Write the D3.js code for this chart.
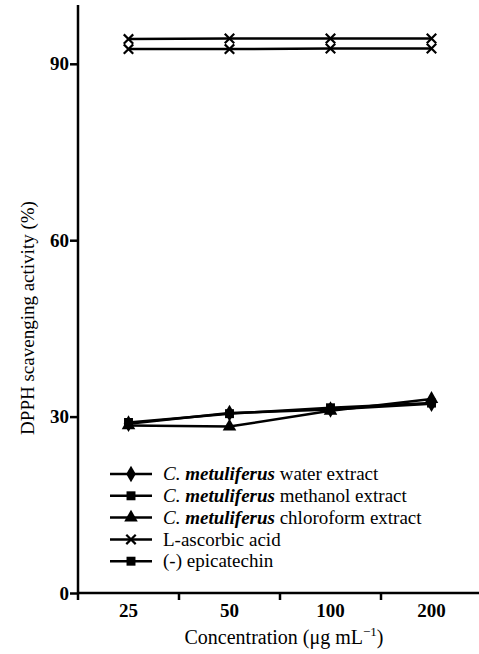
<!DOCTYPE html>
<html>
<head>
<meta charset="utf-8">
<script src="https://cdn.jsdelivr.net/npm/d3@7"></script>
</head>
<body style="margin:0; background:#fff">
<div id="chart"></div>
<script>
    const concentrations = ["25", "50", "100", "200"];
    const water = [28.8, 30.6, 31.2, 32.2];
    const methanol = [29.0, 30.5, 31.5, 32.3];
    const chloroform = [28.5, 28.3, 31.0, 33.0];
    const ascorbic = [94.2, 94.3, 94.3, 94.3];
    const epicatechin = [92.5, 92.5, 92.6, 92.6];
    const yTicks = [0, 30, 60, 90];

    const FONT = "'Liberation Serif', 'Times New Roman', serif";

    const series = [
        {name: ["C. ", "metuliferus", " water extract"], values: water, symbol: d3.symbolDiamond, size: 80},
        {name: ["C. ", "metuliferus", " methanol extract"], values: methanol, symbol: d3.symbolSquare, size: 80},
        {name: ["C. ", "metuliferus", " chloroform extract"], values: chloroform, symbol: d3.symbolTriangle, size: 80},
        {name: ["", "", "L-ascorbic acid"], values: ascorbic, symbol: d3.symbolTimes, size: 60},
        {name: ["", "", "(-) epicatechin"], values: epicatechin, symbol: d3.symbolSquare, size: 80, plotSymbol: d3.symbolTimes}
    ];

    let width = 479, height = 654;
    let margin = {top: 5, right: 0, bottom: 61, left: 78};

    let svg = d3.select("#chart")
        .append("svg")
        .attr("width", width)
        .attr("height", height)
        .style("font-family", FONT);

    let x = d3.scaleBand()
        .domain(concentrations)
        .range([margin.left, margin.left + 404]);

    let y = d3.scaleLinear()
        .domain([0, 100])
        .range([height - margin.bottom, margin.top]);

    // y axis
    let yAxis = svg.append("g")
        .attr("transform", `translate(${margin.left}, 0)`)
        .call(d3.axisLeft(y).tickValues(yTicks).tickSize(8).tickPadding(1));
    yAxis.select(".domain").attr("stroke-width", 2.5).attr("d", `M0,${y(0)}V${y(100)}`);
    yAxis.selectAll(".tick line").attr("stroke-width", 2.5);
    yAxis.selectAll(".tick text")
        .style("font-family", FONT)
        .style("font-size", "19px")
        .style("font-weight", "bold");

    // x axis, ticks sit on band edges
    let xg = svg.append("g")
        .attr("transform", `translate(0, ${y(0)})`);
    xg.append("line")
        .attr("x1", margin.left).attr("x2", width)
        .attr("stroke", "#000").attr("stroke-width", 2.5);
    xg.selectAll(".xtick")
        .data(concentrations)
        .join("line")
        .attr("x1", d => x(d)).attr("x2", d => x(d))
        .attr("y1", 0).attr("y2", 7)
        .attr("stroke", "#000").attr("stroke-width", 2.5);
    xg.selectAll(".xlab")
        .data(concentrations)
        .join("text")
        .attr("x", d => x(d) + x.bandwidth() / 2)
        .attr("y", 24)
        .attr("text-anchor", "middle")
        .style("font-family", FONT)
        .style("font-size", "19px")
        .style("font-weight", "bold")
        .text(d => d);

    // lines and markers
    let line = d3.line()
        .x((d, i) => x(concentrations[i]) + x.bandwidth() / 2)
        .y(d => y(d));

    series.forEach(s => {
        svg.append("path")
            .datum(s.values)
            .attr("d", line)
            .attr("fill", "none")
            .attr("stroke", "#000")
            .attr("stroke-width", 2.5);
        let sym = s.plotSymbol || s.symbol;
        svg.selectAll(null)
            .data(s.values)
            .join("path")
            .attr("transform", (d, i) => `translate(${x(concentrations[i]) + x.bandwidth() / 2}, ${y(d)})`)
            .attr("d", d3.symbol().type(sym).size(sym === d3.symbolTimes ? 60 : s.size))
            .attr("fill", "#000")
            .attr("stroke", "#000")
            .attr("stroke-width", sym === d3.symbolTimes ? 2.2 : 0);
    });

    // legend
    let legend = svg.append("g")
        .attr("transform", "translate(110, 474)");
    series.forEach((s, i) => {
        let g = legend.append("g").attr("transform", `translate(0, ${i * 21.8})`);
        g.append("line")
            .attr("x1", 0).attr("x2", 42)
            .attr("stroke", "#000").attr("stroke-width", 2.5);
        g.append("path")
            .attr("transform", "translate(21, 0)")
            .attr("d", d3.symbol().type(s.symbol).size(s.size))
            .attr("fill", "#000")
            .attr("stroke", "#000")
            .attr("stroke-width", s.symbol === d3.symbolTimes ? 2.2 : 0);
        let t = g.append("text")
            .attr("x", 53)
            .attr("dy", "0.33em")
            .style("font-family", FONT)
            .style("font-size", "19px");
        if (s.name[0]) {
            t.append("tspan").style("font-style", "italic").text(s.name[0]);
            t.append("tspan").style("font-style", "italic").style("font-weight", "bold").text(s.name[1]);
        }
        t.append("tspan").text(s.name[2]);
    });

    // axis titles
    svg.append("text")
        .attr("x", 284)
        .attr("y", 644)
        .attr("text-anchor", "middle")
        .style("font-family", FONT)
        .style("font-size", "20px")
        .html("Concentration (μg mL<tspan dy='-8' font-size='13px'>−1</tspan><tspan dy='8'>)</tspan>");

    svg.append("text")
        .attr("transform", "translate(34, 318) rotate(-90)")
        .attr("text-anchor", "middle")
        .style("font-family", FONT)
        .style("font-size", "19px")
        .text("DPPH scavenging activity (%)");
</script>
</body>
</html>
